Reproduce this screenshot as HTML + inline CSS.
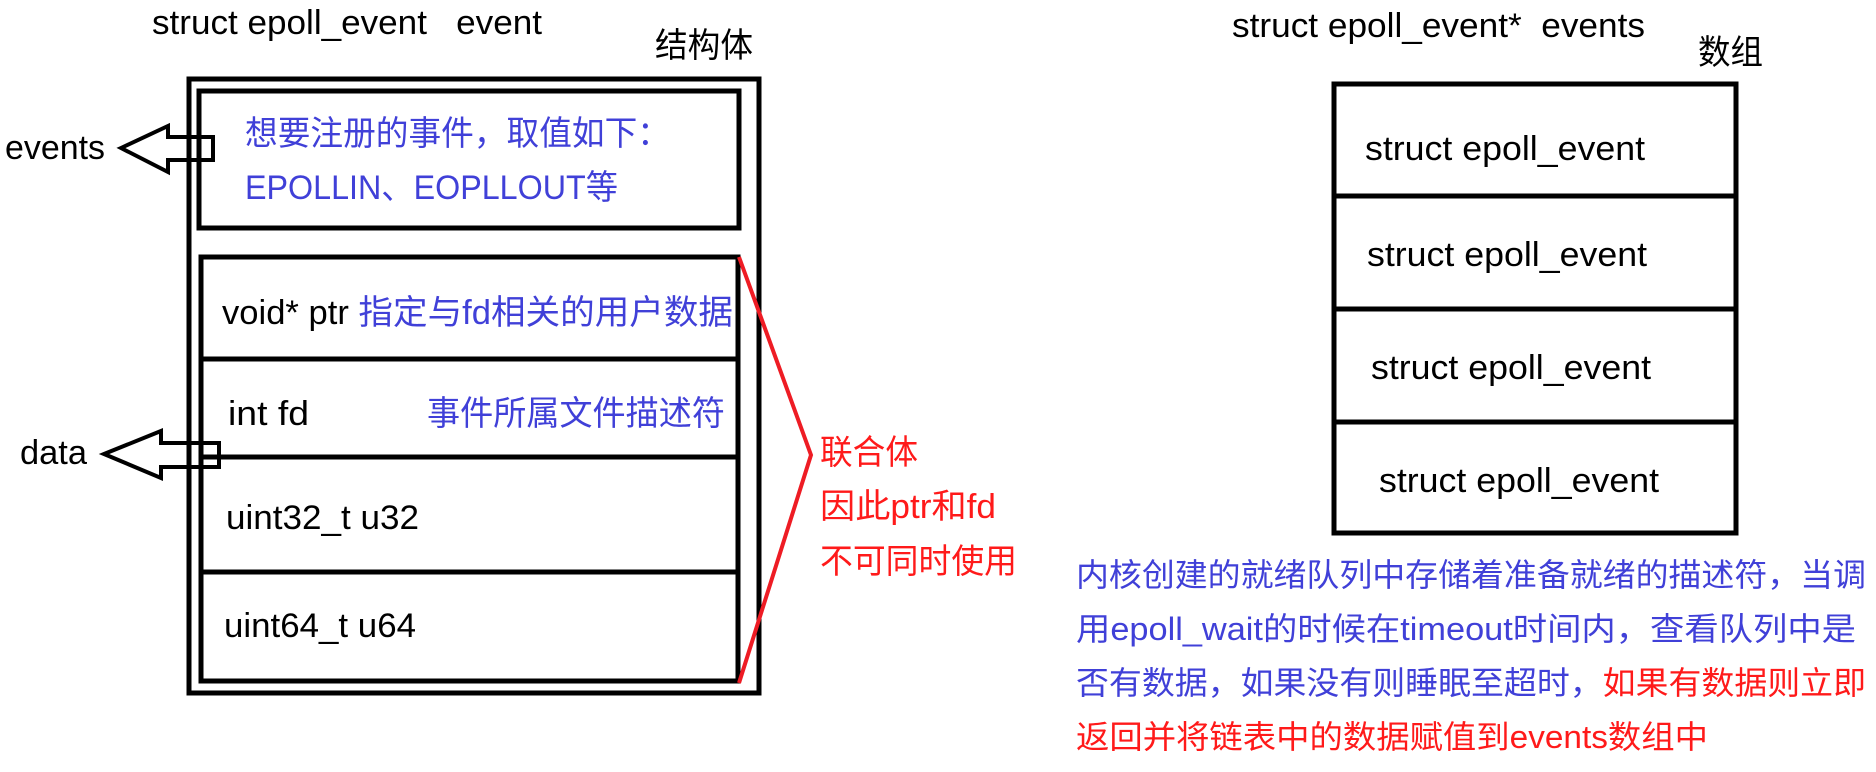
<!DOCTYPE html>
<html><head><meta charset="utf-8"><style>
html,body{margin:0;padding:0;background:#fff;}
svg{display:block;}
text{font-family:"Liberation Sans","Noto Sans CJK SC",sans-serif;font-size:34px;}
.b{fill:#4040d8}.r{fill:#ff1a1a}.k{fill:#000}
.p{font-size:32px}
</style></head><body>
<svg width="1876" height="772" viewBox="0 0 1876 772" xmlns="http://www.w3.org/2000/svg">
<g fill="none" stroke="#000" stroke-width="5">
<rect x="189" y="79" width="570" height="614"/>
<rect x="199" y="91" width="540" height="137"/>
<rect x="201" y="257" width="537" height="424"/>
<line x1="201" y1="359" x2="738" y2="359"/>
<line x1="201" y1="457" x2="738" y2="457"/>
<line x1="201" y1="572" x2="738" y2="572"/>
<rect x="1334" y="84" width="402" height="449"/>
<line x1="1334" y1="196" x2="1736" y2="196"/>
<line x1="1334" y1="309" x2="1736" y2="309"/>
<line x1="1334" y1="422" x2="1736" y2="422"/>
<polygon stroke-width="4" points="121,148 168,126 168,137 213,137 213,160 168,160 168,172"/>
<polygon stroke-width="4" points="104,454 161,431 161,443 219,443 219,467 161,467 161,478"/>
</g>
<polyline points="739,257 811,455 739,683" fill="none" stroke="#ee1c24" stroke-width="4"/>
<text x="152" y="34" class="k" textLength="390" lengthAdjust="spacingAndGlyphs">struct epoll_event&#160;&#160;&#160;event</text>
<text x="655" y="57" class="k" textLength="98" lengthAdjust="spacingAndGlyphs">结构体</text>
<text x="5" y="159" class="k" textLength="100" lengthAdjust="spacingAndGlyphs">events</text>
<text x="20" y="464" class="k" textLength="67" lengthAdjust="spacingAndGlyphs">data</text>
<text x="245" y="145" class="b" textLength="425" lengthAdjust="spacingAndGlyphs">想要注册的事件，取值如下：</text>
<text x="245" y="199" class="b" textLength="373" lengthAdjust="spacingAndGlyphs">EPOLLIN、EOPLLOUT等</text>
<text x="222" y="324" class="k" textLength="511" lengthAdjust="spacingAndGlyphs">void* ptr <tspan class="b">指定与fd相关的用户数据</tspan></text>
<text x="228" y="425" class="k" textLength="81" lengthAdjust="spacingAndGlyphs">int fd</text>
<text x="427" y="425" class="b" textLength="298" lengthAdjust="spacingAndGlyphs">事件所属文件描述符</text>
<text x="226" y="529" class="k" textLength="193" lengthAdjust="spacingAndGlyphs">uint32_t u32</text>
<text x="224" y="637" class="k" textLength="192" lengthAdjust="spacingAndGlyphs">uint64_t u64</text>
<text x="820" y="464" class="r" textLength="98" lengthAdjust="spacingAndGlyphs">联合体</text>
<text x="820" y="518" class="r" textLength="176" lengthAdjust="spacingAndGlyphs">因此ptr和fd</text>
<text x="820" y="573" class="r" textLength="197" lengthAdjust="spacingAndGlyphs">不可同时使用</text>
<text x="1232" y="37" class="k" textLength="413" lengthAdjust="spacingAndGlyphs">struct epoll_event*&#160;&#160;events</text>
<text x="1698" y="64" class="k" textLength="65" lengthAdjust="spacingAndGlyphs">数组</text>
<text x="1365" y="160" class="k" textLength="280" lengthAdjust="spacingAndGlyphs">struct epoll_event</text>
<text x="1367" y="266" class="k" textLength="280" lengthAdjust="spacingAndGlyphs">struct epoll_event</text>
<text x="1371" y="379" class="k" textLength="280" lengthAdjust="spacingAndGlyphs">struct epoll_event</text>
<text x="1379" y="492" class="k" textLength="280" lengthAdjust="spacingAndGlyphs">struct epoll_event</text>
<text x="1076" y="586" class="b p" textLength="790" lengthAdjust="spacingAndGlyphs">内核创建的就绪队列中存储着准备就绪的描述符，当调</text>
<text x="1076" y="640" class="b p" textLength="780" lengthAdjust="spacingAndGlyphs">用epoll_wait的时候在timeout时间内，查看队列中是</text>
<text x="1076" y="694" class="p" textLength="790" lengthAdjust="spacingAndGlyphs"><tspan class="b">否有数据，如果没有则睡眠至超时，</tspan><tspan class="r">如果有数据则立即</tspan></text>
<text x="1076" y="748" class="r p" textLength="632" lengthAdjust="spacingAndGlyphs">返回并将链表中的数据赋值到events数组中</text>
</svg>
</body></html>
